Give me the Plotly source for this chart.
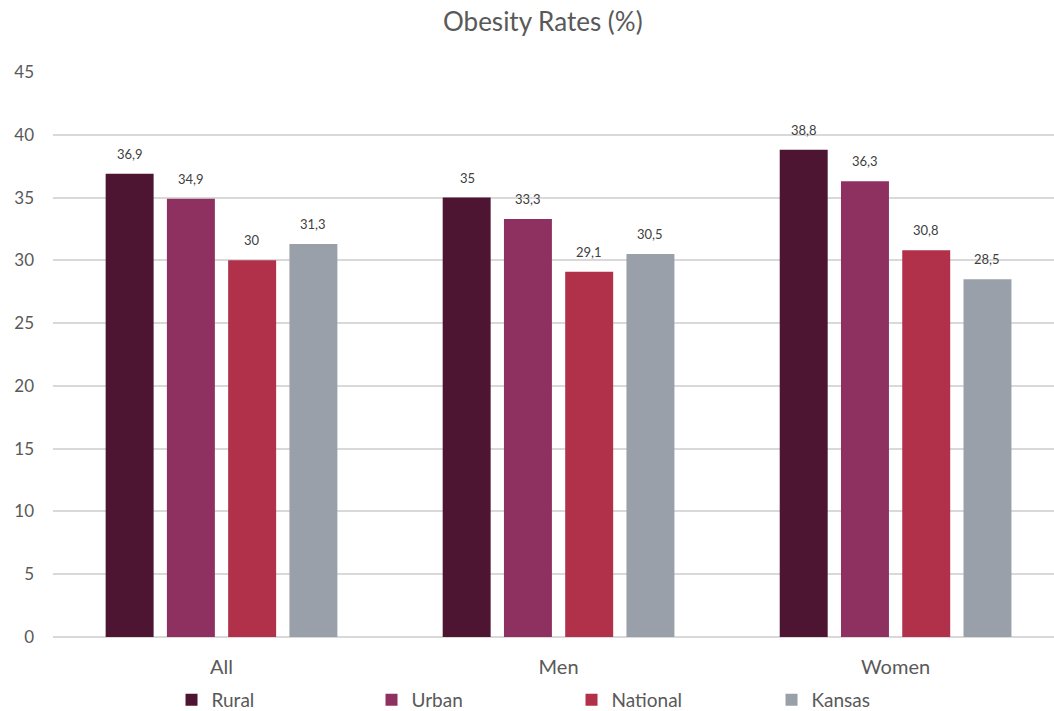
import plotly.graph_objects as go

categories = ["All", "Men", "Women"]
rural = [36.9, 35, 38.8]
urban = [34.9, 33.3, 36.3]
national = [30, 29.1, 30.8]
kansas = [31.3, 30.5, 28.5]

series = [
    ("Rural", rural, "#4E1533"),
    ("Urban", urban, "#8E3060"),
    ("National", national, "#B1304A"),
    ("Kansas", kansas, "#99A0A9"),
]

FONT = "Lato, 'Open Sans', sans-serif"

# horizontal offset (px) of each bar within its category group
BAR_SHIFT = [-91.5, -30.5, 30.5, 91.5]


def fmt(v):
    return f"{v:g}".replace(".", ",")


fig = go.Figure()
annotations = []
for i, (name, vals, color) in enumerate(series):
    fig.add_trace(go.Bar(
        name=name, x=categories, y=vals,
        marker=dict(color=color, line=dict(width=0)),
    ))
    for cat, v in zip(categories, vals):
        annotations.append(dict(
            x=cat, y=v, xref="x", yref="y", text=fmt(v), showarrow=False,
            xshift=BAR_SHIFT[i], yshift=20, yanchor="middle",
            font=dict(family=FONT, size=13, color="#404040"),
        ))

fig.update_layout(
    width=1054, height=711,
    margin=dict(l=53, r=0, t=72, b=74),
    paper_bgcolor="white", plot_bgcolor="white",
    barmode="group", bargap=0.273, bargroupgap=0.217,
    title=dict(text="Obesity Rates (%)", x=0.515, xanchor="center",
               y=1 - 22 / 711, yanchor="middle",
               font=dict(family=FONT, size=26, color="#595959")),
    font=dict(family=FONT, color="#595959"),
    xaxis=dict(range=[-0.5, 2.47], showgrid=False, showline=False,
               ticks="", ticklabelstandoff=16, automargin=False,
               tickfont=dict(family=FONT, size=20, color="#595959")),
    yaxis=dict(range=[0, 45], dtick=5, showgrid=True, gridcolor="#D9D9D9",
               gridwidth=1.5, zeroline=True, zerolinecolor="#D9D9D9",
               zerolinewidth=1.5, ticks="", ticklabelstandoff=18,
               automargin=False,
               tickfont=dict(family=FONT, size=17, color="#595959")),
    legend=dict(orientation="h", x=0.518, xanchor="center",
                yref="container", y=11 / 711, yanchor="middle",
                entrywidth=155, itemwidth=30,
                font=dict(family=FONT, size=19, color="#595959")),
    annotations=annotations,
)

fig.write_html("out.html")
